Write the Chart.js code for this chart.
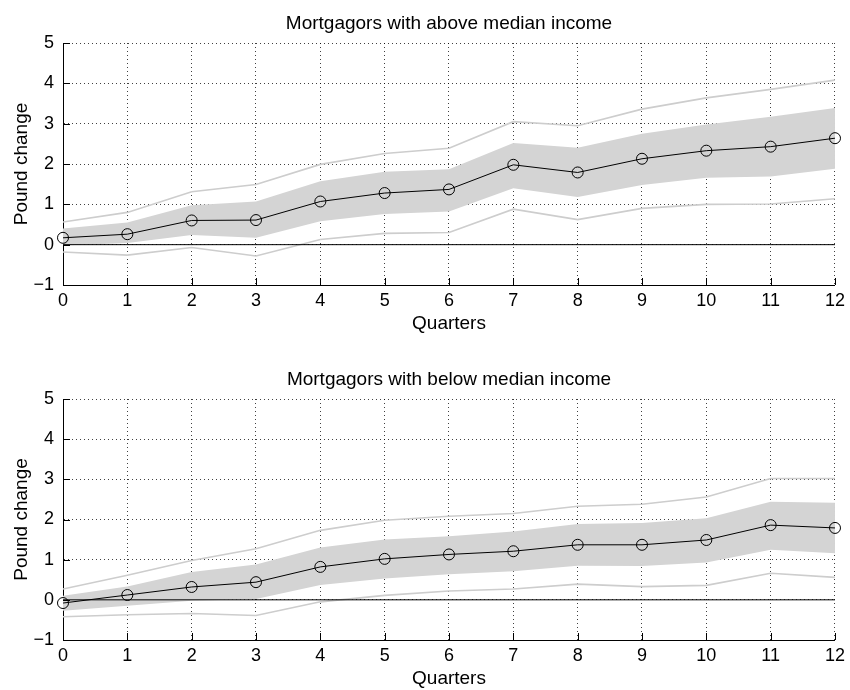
<!DOCTYPE html>
<html>
<head>
<meta charset="utf-8">
<title>Mortgagors: pound change by income group</title>
<script src="https://cdn.jsdelivr.net/npm/chart.js@4/dist/chart.umd.min.js"></script>
<style>
  html, body { margin: 0; padding: 0; background: #fff; }
  #wrap { position: relative; width: 850px; height: 690px; }
  canvas { position: absolute; left: 0; display: block; }
  #above { top: 0; }
  #below { top: 335px; }
</style>
</head>
<body>
<div id="wrap">
  <canvas id="above" width="850" height="335"></canvas>
  <canvas id="below" width="850" height="355"></canvas>
</div>
<script>
// Horizon (quarters after the shock) and axis ticks
const quarters = [0, 1, 2, 3, 4, 5, 6, 7, 8, 9, 10, 11, 12];
const yTicks = [-1, 0, 1, 2, 3, 4, 5];

// Mortgagors with above median income
const aboveMean    = [0.17, 0.26, 0.60, 0.61, 1.07, 1.28, 1.37, 1.98, 1.79, 2.13, 2.33, 2.43, 2.64];
const aboveBandHi  = [0.40, 0.55, 0.98, 1.07, 1.57, 1.81, 1.87, 2.52, 2.40, 2.75, 2.98, 3.17, 3.39];
const aboveBandLo  = [-0.02, 0.04, 0.24, 0.17, 0.58, 0.76, 0.82, 1.40, 1.18, 1.48, 1.66, 1.69, 1.88];
const aboveOuterHi = [0.56, 0.80, 1.31, 1.49, 1.99, 2.26, 2.39, 3.05, 2.95, 3.36, 3.64, 3.85, 4.08];
const aboveOuterLo = [-0.18, -0.26, -0.07, -0.28, 0.13, 0.28, 0.30, 0.88, 0.62, 0.90, 1.00, 1.01, 1.14];

// Mortgagors with below median income
const belowMean    = [-0.08, 0.12, 0.32, 0.44, 0.82, 1.02, 1.13, 1.21, 1.37, 1.37, 1.49, 1.86, 1.79];
const belowBandHi  = [0.10, 0.33, 0.69, 0.88, 1.30, 1.50, 1.58, 1.70, 1.89, 1.91, 2.03, 2.44, 2.42];
const belowBandLo  = [-0.27, -0.15, -0.02, 0.02, 0.37, 0.53, 0.64, 0.71, 0.85, 0.84, 0.93, 1.25, 1.16];
const belowOuterHi = [0.27, 0.61, 0.98, 1.27, 1.73, 1.98, 2.08, 2.15, 2.33, 2.38, 2.56, 3.02, 3.02];
const belowOuterLo = [-0.42, -0.37, -0.34, -0.39, -0.05, 0.11, 0.22, 0.27, 0.39, 0.33, 0.36, 0.66, 0.56];

const FONT = '"Liberation Sans", Arial, Helvetica, sans-serif';
const BAND_FILL = '#d4d4d4';
const OUTER_LINE = '#cdcdcd';
const GRID_DOTS = 'rgba(0,0,0,0.75)';

const toPoints = vals => quarters.map((q, i) => ({ x: q, y: vals[i] }));

// Tick marks pointing into the plot area, drawn on top of the data
const innerTicks = {
  id: 'innerTicks',
  afterDatasetsDraw(chart) {
    const { ctx, chartArea: a, scales: { x, y } } = chart;
    const len = 7;
    ctx.save();
    ctx.strokeStyle = '#000';
    ctx.lineWidth = 1;
    ctx.beginPath();
    x.ticks.forEach(t => {
      const px = Math.round(x.getPixelForValue(t.value)) + 0.5;
      ctx.moveTo(px, a.bottom);
      ctx.lineTo(px, a.bottom - len);
    });
    y.ticks.forEach(t => {
      const py = Math.round(y.getPixelForValue(t.value)) + 0.5;
      ctx.moveTo(a.left, py);
      ctx.lineTo(a.left + len, py);
    });
    ctx.stroke();
    ctx.restore();
  }
};

function makeChart(id, titleText, s, topPad) {
  const datasets = [
    { // confidence band, upper edge filled down to the lower edge
      data: toPoints(s.bandHi), borderWidth: 0, pointRadius: 0,
      backgroundColor: BAND_FILL, fill: '+1', order: 4
    },
    {
      data: toPoints(s.bandLo), borderWidth: 0, pointRadius: 0,
      backgroundColor: BAND_FILL, fill: false, order: 4
    },
    {
      data: toPoints(s.outerHi), borderColor: OUTER_LINE, borderWidth: 1.6,
      pointRadius: 0, fill: false, order: 3
    },
    {
      data: toPoints(s.outerLo), borderColor: OUTER_LINE, borderWidth: 1.6,
      pointRadius: 0, fill: false, order: 3
    },
    { // zero reference line
      data: [{ x: quarters[0], y: 0 }, { x: quarters[quarters.length - 1], y: 0 }],
      borderColor: '#000', borderWidth: 1, pointRadius: 0, fill: false, order: 2
    },
    { // point estimates
      data: toPoints(s.mean), borderColor: '#000', borderWidth: 1,
      pointRadius: 5.5, pointBorderWidth: 1, pointBorderColor: '#000',
      pointBackgroundColor: 'rgba(0,0,0,0)', fill: false, order: 1, clip: false
    }
  ];

  return new Chart(document.getElementById(id), {
    type: 'line',
    data: { datasets },
    plugins: [innerTicks],
    options: {
      responsive: false,
      animation: false,
      events: [],
      layout: { padding: { top: topPad, left: 0, right: 12, bottom: 0 } },
      elements: { line: { tension: 0 } },
      plugins: {
        legend: { display: false },
        tooltip: { enabled: false },
        title: { display: false }
      },
      scales: {
        // top axis carries the panel title, centred over the plot area
        top: {
          type: 'linear',
          position: 'top',
          min: quarters[0],
          max: quarters[quarters.length - 1],
          afterFit: sc => { sc.height = 43; },
          ticks: { display: false },
          grid: { display: false, drawTicks: false },
          border: { display: false },
          title: {
            display: true, text: titleText, color: '#000',
            font: { family: FONT, size: 19 }, padding: { top: 12.6, bottom: 0 }
          }
        },
        x: {
          type: 'linear',
          position: 'bottom',
          min: quarters[0],
          max: quarters[quarters.length - 1],
          afterBuildTicks: sc => { sc.ticks = quarters.map(v => ({ value: v })); },
          afterFit: sc => { sc.height = 50; },
          ticks: {
            color: '#000', padding: 5, maxRotation: 0, autoSkip: false,
            font: { family: FONT, size: 18 },
            callback: v => String(v)
          },
          grid: { color: GRID_DOTS, lineWidth: 1, drawTicks: false },
          border: { display: true, color: '#000', width: 1, dash: [1, 3] },
          title: {
            display: true, text: 'Quarters', color: '#000',
            font: { family: FONT, size: 19 }, padding: { top: 0, bottom: 0 }
          }
        },
        y: {
          type: 'linear',
          min: yTicks[0],
          max: yTicks[yTicks.length - 1],
          afterBuildTicks: sc => { sc.ticks = yTicks.map(v => ({ value: v })); },
          afterFit: sc => { sc.width = 63; },
          ticks: {
            color: '#000', padding: 9,
            font: { family: FONT, size: 18 },
            callback: v => String(v).replace('-', '\u2212')
          },
          grid: { color: GRID_DOTS, lineWidth: 1, drawTicks: false },
          border: { display: true, color: '#000', width: 1, dash: [1, 3] },
          title: {
            display: true, text: 'Pound change', color: '#000',
            font: { family: FONT, size: 19 }, padding: { top: 10.5, bottom: 0 }
          }
        }
      }
    }
  });
}

makeChart('above', 'Mortgagors with above median income', {
  mean: aboveMean, bandHi: aboveBandHi, bandLo: aboveBandLo,
  outerHi: aboveOuterHi, outerLo: aboveOuterLo
}, 0);

makeChart('below', 'Mortgagors with below median income', {
  mean: belowMean, bandHi: belowBandHi, bandLo: belowBandLo,
  outerHi: belowOuterHi, outerLo: belowOuterLo
}, 21);
</script>
</body>
</html>
